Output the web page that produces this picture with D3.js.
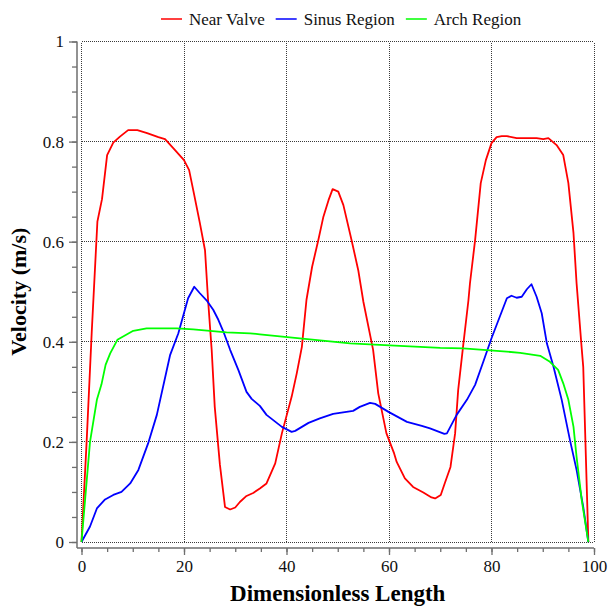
<!DOCTYPE html>
<html>
<head>
<meta charset="utf-8">
<script src="https://cdn.jsdelivr.net/npm/d3@7"></script>
<style>
  html, body { margin: 0; padding: 0; background: #fff; }
  svg { display: block; font-family: "Liberation Serif", "Times New Roman", serif; }
</style>
</head>
<body>
<svg id="chart" width="609" height="606"></svg>
<script>
// Velocity profiles along the dimensionless length, one [x, v] list per region
const nearValve = [
  [0,0],[1,0.2],[2,0.42],[3.1,0.64],[4.0,0.685],[5.0,0.773],[6.2,0.798],
  [7.5,0.81],[9.1,0.823],[10.9,0.823],[12.8,0.817],[15.0,0.809],[16.3,0.805],[17.9,0.787],
  [20.0,0.763],[21.0,0.743],[22.0,0.693],[23.1,0.637],[24.1,0.583],[24.7,0.483],[25.4,0.384],
  [26.0,0.27],[27.0,0.155],[28.0,0.07],[29.0,0.065],[30.0,0.069],[30.9,0.08],[32.2,0.092],
  [33.5,0.098],[34.8,0.107],[36.1,0.117],[37.8,0.157],[39.1,0.217],[41.0,0.29],[42.0,0.337],
  [43.0,0.39],[43.9,0.484],[45.0,0.55],[46.2,0.603],[47.2,0.65],[48.2,0.683],[49.0,0.705],
  [50.1,0.70],[51.1,0.673],[52.7,0.603],[54.0,0.543],[55.0,0.48],[56.9,0.384],[57.9,0.297],
  [59.5,0.217],[61.0,0.177],[61.5,0.16],[63.1,0.127],[64.7,0.11],[66.7,0.099],[68.3,0.089],
  [69.0,0.087],[70.1,0.094],[70.9,0.118],[72.0,0.15],[72.9,0.217],[73.5,0.304],[74.5,0.395],
  [75.5,0.483],[75.8,0.517],[76.8,0.603],[77.9,0.717],[78.9,0.763],[80.0,0.797],[81.0,0.809],
  [82.0,0.811],[83.0,0.811],[84.9,0.807],[88.8,0.807],[90.1,0.805],[91.1,0.807],[92.7,0.793],
  [94.0,0.773],[95.0,0.717],[96.0,0.617],[96.6,0.517],[97.6,0.387],[97.9,0.35],[98.9,0]
];
const sinusRegion = [
  [0,0],[1.66,0.031],[3.0,0.067],[4.6,0.085],[6.2,0.094],[7.8,0.1],[9.5,0.117],[11.1,0.144],
  [13.0,0.197],[14.7,0.254],[17.3,0.374],[18.9,0.417],[20.8,0.487],[22.0,0.51],[23.1,0.497],
  [24.4,0.483],[25.7,0.464],[26.7,0.444],[27.7,0.42],[29.0,0.384],[30.6,0.344],[32.2,0.30],
  [33.2,0.286],[34.8,0.272],[36.1,0.254],[39.1,0.23],[41.0,0.22],[41.7,0.222],[44.3,0.238],
  [46.5,0.247],[49.1,0.256],[53.0,0.262],[54.3,0.27],[56.3,0.278],[57.3,0.276],[59.9,0.26],
  [63.5,0.24],[66.4,0.232],[68.0,0.227],[70.8,0.216],[71.3,0.217],[73.2,0.254],[75.2,0.284],
  [76.8,0.314],[78.4,0.36],[80.0,0.407],[83.0,0.487],[83.9,0.492],[84.9,0.488],[85.9,0.49],
  [86.9,0.505],[87.8,0.515],[88.8,0.49],[89.8,0.457],[90.8,0.397],[92.1,0.35],[93.7,0.284],
  [95.3,0.204],[96.6,0.144],[97.9,0.07],[98.9,0]
];
const archRegion = [
  [0,0],[1.66,0.2],[3.0,0.284],[3.9,0.315],[4.7,0.354],[5.6,0.377],[7.0,0.404],
  [10.1,0.422],[12.7,0.427],[18.6,0.427],[21.8,0.425],[28.3,0.419],[32.9,0.417],[34.8,0.415],
  [42.6,0.407],[52.4,0.397],[62.1,0.392],[70.0,0.388],[74.5,0.387],[81.0,0.382],[85.6,0.378],
  [89.5,0.372],[91.4,0.36],[93.0,0.344],[94.0,0.317],[95.0,0.284],[96.0,0.23],[96.6,0.17],
  [97.6,0.084],[98.9,0]
];
const seriesNames = ["Near Valve", "Sinus Region", "Arch Region"];
const seriesColors = ["#ff0000", "#0000ff", "#00ff00"];
const xTicks = [0, 20, 40, 60, 80, 100];
const yTicks = [0, 0.2, 0.4, 0.6, 0.8, 1];

const svg = d3.select("#chart");
const x = d3.scaleLinear().domain([0, 100]).range([81.5, 594]);
const y = d3.scaleLinear().domain([0, 1]).range([542, 41.5]);
const axisX = 77, axisY = 548;
const snap = v => Math.round(v - 0.5) + 0.5;

// dotted grid at every major tick
const grid = svg.append("g").attr("stroke", "#3a3a3a").attr("stroke-width", 1)
  .attr("stroke-dasharray", "1,1").attr("fill", "none").attr("shape-rendering", "crispEdges");
grid.selectAll("line.v").data(xTicks).join("line").attr("class", "v")
  .attr("x1", d => snap(x(d))).attr("x2", d => snap(x(d))).attr("y1", y(0)).attr("y2", y(1));
grid.selectAll("line.h").data(yTicks).join("line").attr("class", "h")
  .attr("x1", x(0)).attr("x2", x(100)).attr("y1", d => snap(y(d))).attr("y2", d => snap(y(d)));

// axes, offset slightly from the plotting area
const fmt = d3.format("~g");
function styleAxis(g) {
  g.select(".domain").remove();
  g.selectAll(".tick line").attr("stroke", "#6e6e6e").attr("stroke-width", 1.3);
  g.selectAll(".tick text").attr("fill", "#111").attr("font-size", 17)
    .attr("font-family", "Liberation Serif, Times New Roman, serif");
}
svg.append("g").attr("transform", `translate(${axisX},0)`)
  .call(d3.axisLeft(y).tickValues(d3.range(0, 1.0001, 0.05)).tickSize(5).tickFormat(""))
  .call(styleAxis);
svg.append("g").attr("transform", `translate(${axisX},0)`)
  .call(d3.axisLeft(y).tickValues(yTicks).tickSize(8).tickPadding(5).tickFormat(fmt))
  .call(styleAxis);
svg.append("g").attr("transform", `translate(0,${axisY})`)
  .call(d3.axisBottom(x).tickValues(d3.range(0, 100.001, 5)).tickSize(4).tickFormat(""))
  .call(styleAxis);
svg.append("g").attr("transform", `translate(0,${axisY})`)
  .call(d3.axisBottom(x).tickValues(xTicks).tickSize(7).tickPadding(5).tickFormat(fmt))
  .call(styleAxis);
svg.append("line").attr("x1", axisX).attr("x2", axisX).attr("y1", y(1)).attr("y2", axisY)
  .attr("stroke", "#6e6e6e").attr("stroke-width", 1.5);
svg.append("line").attr("x1", axisX).attr("x2", x(100)).attr("y1", axisY).attr("y2", axisY)
  .attr("stroke", "#6e6e6e").attr("stroke-width", 1.5);

// curves
const line = d3.line().x(d => x(d[0])).y(d => y(d[1]));
[nearValve, sinusRegion, archRegion].forEach((data, i) => {
  svg.append("path").datum(data).attr("d", line)
    .attr("fill", "none").attr("stroke", seriesColors[i])
    .attr("stroke-width", 1.8).attr("stroke-linejoin", "round");
});

// axis titles
svg.append("text").attr("x", (x(0) + x(100)) / 2).attr("y", 601)
  .attr("text-anchor", "middle").attr("font-weight", "bold").attr("font-size", 23)
  .attr("fill", "#000").text("Dimensionless Length");
svg.append("text").attr("transform", `translate(26,${(y(0) + y(1)) / 2}) rotate(-90)`)
  .attr("text-anchor", "middle").attr("font-weight", "bold").attr("font-size", 22)
  .attr("fill", "#000").text("Velocity (m/s)");

// legend across the top
const legend = svg.append("g");
let lx = 161;
seriesNames.forEach((name, i) => {
  legend.append("line").attr("x1", lx).attr("x2", lx + 21).attr("y1", 19).attr("y2", 19)
    .attr("stroke", seriesColors[i]).attr("stroke-width", 1.5);
  const t = legend.append("text").attr("x", lx + 28).attr("y", 25)
    .attr("font-size", 17).attr("fill", "#111").text(name);
  lx += 28 + t.node().getComputedTextLength() + 11;
});
</script>
</body>
</html>
